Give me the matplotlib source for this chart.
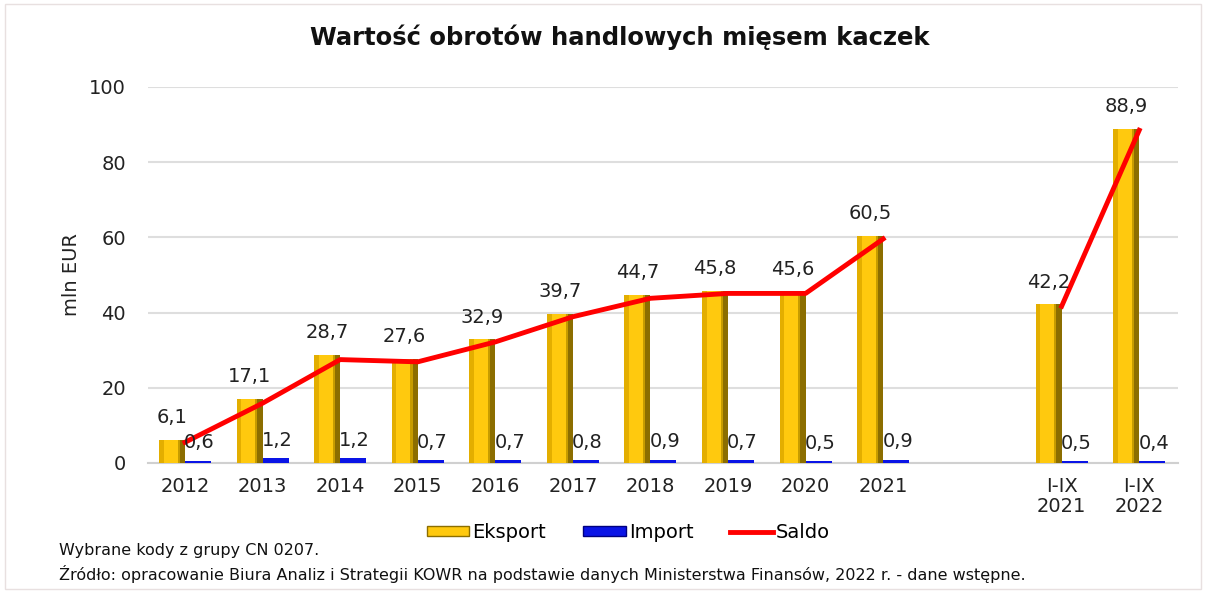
import matplotlib
matplotlib.use('Agg')
import matplotlib.pyplot as plt
from matplotlib.patches import Patch, Rectangle
from matplotlib.lines import Line2D

# data
categories = ['2012', '2013', '2014', '2015', '2016', '2017', '2018', '2019',
              '2020', '2021', 'I-IX\n2021', 'I-IX\n2022']
eksport = [6.1, 17.1, 28.7, 27.6, 32.9, 39.7, 44.7, 45.8, 45.6, 60.5, 42.2, 88.9]
import_ = [0.6, 1.2, 1.2, 0.7, 0.7, 0.8, 0.9, 0.7, 0.5, 0.9, 0.5, 0.4]
saldo = [5.5, 15.9, 27.5, 26.9, 32.2, 38.9, 43.8, 45.1, 45.1, 59.6, 41.7, 88.5]
yticks = [0, 20, 40, 60, 80, 100]
n_years = 10  # annual points; the rest are I-IX periods


def fmt(v):
    return f"{v:.1f}".replace('.', ',')


# annual categories, then a gap before the I-IX pair
xpos = [i for i in range(n_years)] + [11.3, 12.3]
bw = 0.335

fig = plt.figure(figsize=(12.06, 5.91), dpi=100)
ax = fig.add_axes([0.1227, 0.2166, 0.8541, 0.6362])

gold = '#FFC90E'
left_x = [x - bw for x in xpos]
ax.bar(left_x, eksport, width=bw, align='edge', color=gold, edgecolor='none', zorder=3)
# bevel shading: light left strip, dark right strip
ax.bar(left_x, eksport, width=bw * 0.18, align='edge', color='#E3AE00', edgecolor='none', zorder=3)
ax.bar([x - bw * 0.2 for x in xpos], eksport, width=bw * 0.2, align='edge',
       color='#8C6E00', edgecolor='none', zorder=3)
ax.bar([x - bw * 0.28 for x in xpos], eksport, width=bw * 0.08, align='edge',
       color='#C79C00', edgecolor='none', zorder=3)
ax.bar(xpos, import_, width=bw, align='edge', color='#0A14E6', edgecolor='none', zorder=3)

# saldo line is broken between the annual series and the I-IX pair
ax.plot(xpos[:n_years], saldo[:n_years], color='#FF0000', lw=3.5, zorder=4)
ax.plot(xpos[n_years:], saldo[n_years:], color='#FF0000', lw=3.5, zorder=4)

for x, v in zip(xpos, eksport):
    ax.text(x - bw / 2, v + 3.4, fmt(v), ha='center', va='bottom', fontsize=14, color='#222222', zorder=5)
for x, v in zip(xpos, import_):
    ax.text(x + bw / 2 + 0.02, v + 2.2, fmt(v), ha='center', va='bottom', fontsize=14, color='#222222', zorder=5)

ax.set_xlim(-0.477, 12.8)
ax.set_ylim(0, 100)
ax.set_yticks(yticks)
ax.set_yticklabels([str(t) for t in yticks], fontsize=14, color='#222222')
ax.set_xticks(xpos)
ax.set_xticklabels(categories, fontsize=14, color='#222222', linespacing=1.05)
ax.tick_params(axis='both', length=0)
ax.tick_params(axis='y', pad=16)
ax.tick_params(axis='x', pad=10)
ax.grid(axis='y', color='#DEDEDE', lw=1.5, zorder=0)
for s in ['top', 'right', 'left']:
    ax.spines[s].set_visible(False)
ax.spines['bottom'].set_color('#D0D0D0')
ax.spines['bottom'].set_linewidth(1.5)
ax.set_ylabel('mln EUR', fontsize=14, color='#222222', labelpad=6)

fig.text(0.514, 0.937, 'Wartość obrotów handlowych mięsem kaczek', ha='center', va='center',
         fontsize=17.5, fontweight='bold', color='#111111')

handles = [Patch(facecolor=gold, edgecolor='#8C6E00', label='Eksport'),
           Patch(facecolor='#0A14E6', edgecolor='#000080', label='Import'),
           Line2D([0], [0], color='#FF0000', lw=3.5, label='Saldo')]
fig.legend(handles=handles, loc='center', bbox_to_anchor=(0.521, 0.099), ncol=3, frameon=False,
           fontsize=14, handlelength=2.2, handleheight=0.45, handletextpad=0.15, columnspacing=1.9)

fig.text(0.049, 0.068, 'Wybrane kody z grupy CN 0207.', fontsize=11.5, color='#111111', va='center')
fig.text(0.049, 0.028, 'Źródło: opracowanie Biura Analiz i Strategii KOWR na podstawie danych '
         'Ministerstwa Finansów, 2022 r. - dane wstępne.', fontsize=11.5, color='#111111', va='center')

fig.patches.append(Rectangle((0.004, 0.004), 0.992, 0.99, transform=fig.transFigure,
                             fill=False, edgecolor='#E8E0E0', lw=1))

fig.savefig('out.png', dpi=100)
